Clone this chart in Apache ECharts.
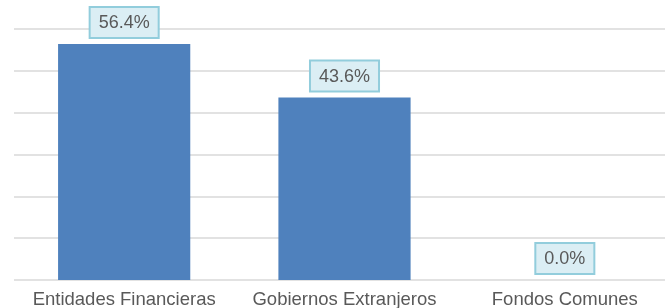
<!DOCTYPE html>
<html style="height: 100%">
<head>
 <meta charset="utf-8">
 <title>Participación</title>
 <script src="https://cdn.jsdelivr.net/npm/echarts@6/dist/echarts.min.js"></script>
</head>
<body style="height: 100%; margin: 0; background: #fff; overflow: hidden">
 <!-- plot runs past the right edge in the original, so the box is a bit wider than the window -->
 <div id="container" style="width: 675px; height: 308px"></div>
 <script type="text/javascript">
    var categories = ['Entidades Financieras', 'Gobiernos Extranjeros', 'Fondos Comunes'];
    var values = [56.4, 43.6, 0.0];

    var myChart = echarts.init(document.getElementById('container'));
    myChart.setOption({
        animation: false,
        backgroundColor: '#fff',
        // labels get cut at the bottom edge in the original, so don't let the grid shrink
        grid: { left: 14, right: 0, top: 29, bottom: 28, outerBoundsMode: 'none', containLabel: false },
        xAxis: {
            type: 'category',
            data: categories,
            axisLine: { show: false },
            axisTick: { show: false },
            axisLabel: {
                color: '#595959',
                fontFamily: 'Liberation Sans, Arial, sans-serif',
                fontSize: 18.5,
                margin: 10,
                interval: 0
            }
        },
        yAxis: {
            type: 'value',
            min: 0,
            max: 60,
            interval: 10,
            axisLabel: { show: false },
            axisLine: { show: false },
            axisTick: { show: false },
            splitLine: { lineStyle: { color: '#d9d9d9', width: 1.5 } }
        },
        series: [{
            type: 'bar',
            data: values,
            barWidth: '60%',
            itemStyle: { color: '#4f81bd' },
            label: {
                show: true,
                position: 'top',
                distance: 7,
                formatter: function (p) { return p.value.toFixed(1) + '%'; },
                color: '#595959',
                fontFamily: 'Liberation Sans, Arial, sans-serif',
                fontSize: 18,
                backgroundColor: '#dbeef4',
                borderColor: '#92cddc',
                borderWidth: 2,
                padding: [6, 8, 5, 8]
            }
        }]
    });
</script>
</body>
</html>
